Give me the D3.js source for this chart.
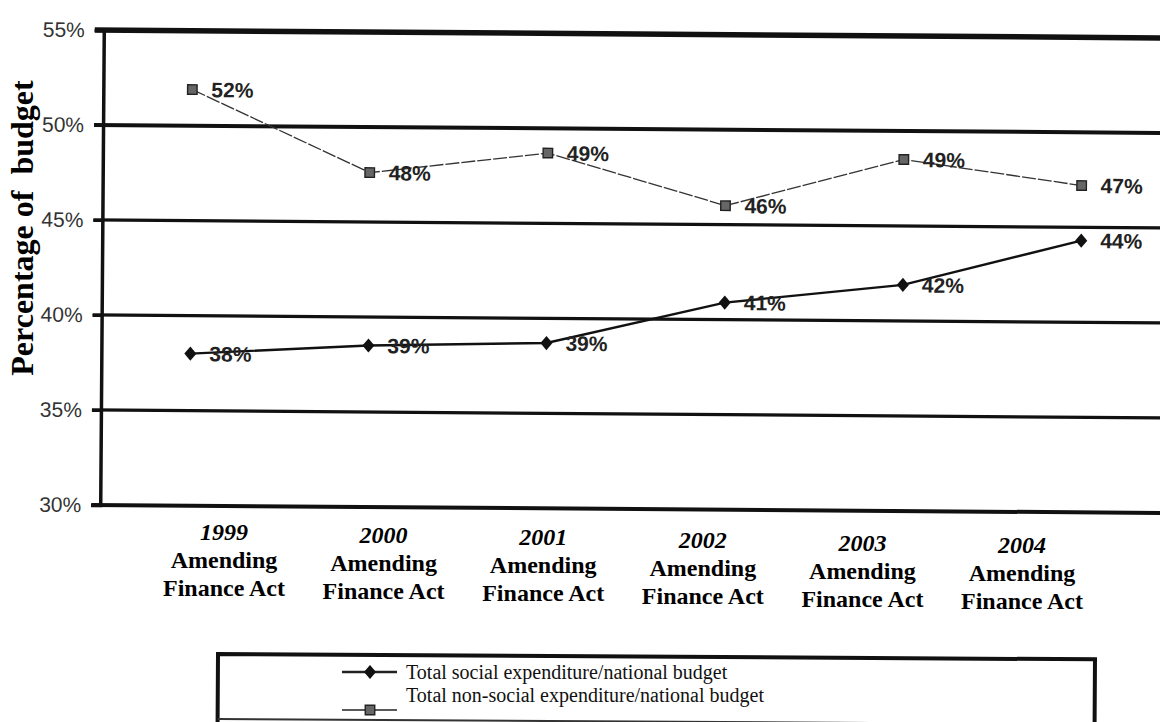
<!DOCTYPE html>
<html>
<head>
<meta charset="utf-8">
<script src="https://cdn.jsdelivr.net/npm/d3@7"></script>
<style>
  html, body { margin: 0; padding: 0; background: #fff; }
  svg { display: block; }
</style>
</head>
<body>
<svg id="chart" width="1160" height="722"></svg>
<script>
// ---------- data ----------
const years = ["1999", "2000", "2001", "2002", "2003", "2004"];
const categoryLine2 = "Amending";
const categoryLine3 = "Finance Act";
const socialValues = [38.0, 38.5, 38.7, 40.9, 41.9, 44.3];
const socialLabels = ["38%", "39%", "39%", "41%", "42%", "44%"];
const nonSocialValues = [51.9, 47.6, 48.7, 46.0, 48.5, 47.2];
const nonSocialLabels = ["52%", "48%", "49%", "46%", "49%", "47%"];
const yTicks = [30, 35, 40, 45, 50, 55];
const yTitle = "Percentage of  budget";
const legendNames = ["Total social expenditure/national budget", "Total non-social expenditure/national budget"];

// ---------- setup ----------
const svg = d3.select("#chart");
const axisX = 102;
const x = d3.scaleBand().domain(years).range([axisX, 1170]);
const y = d3.scaleLinear().domain([30, 55]).range([505, 30]);
const xLab = d3.scalePoint().domain(years).range([224, 1022]);
const cx = d => x(d) + x.bandwidth() / 2;

// scanned page is slightly rotated
const plot = svg.append("g").attr("transform", `rotate(0.43, ${axisX}, 268)`);

// gridlines
const gw = d => d === 55 ? 5.5 : (d === 50 || d === 30) ? 4 : 3.2;
plot.append("g").selectAll("line").data(yTicks).join("line")
  .attr("x1", axisX - 9).attr("x2", 1200)
  .attr("y1", d => y(d)).attr("y2", d => y(d))
  .attr("stroke", "#111").attr("stroke-width", gw);

// y axis with d3 axis
const yAxis = d3.axisLeft(y).tickValues(yTicks).tickFormat(d => d + "%").tickSize(9).tickPadding(10);
const ya = plot.append("g").attr("transform", `translate(${axisX},0)`).call(yAxis);
ya.select(".domain").attr("stroke", "#111").attr("stroke-width", 3.5);
ya.selectAll(".tick line").attr("stroke", "#111").attr("stroke-width", 3);
ya.selectAll(".tick text")
  .attr("font-family", "'Liberation Sans', Arial, sans-serif")
  .attr("font-size", 21).attr("fill", "#333");

// lines
const lineGen = d3.line().x((d, i) => cx(years[i])).y(d => y(d));
plot.append("path").datum(nonSocialValues)
  .attr("d", lineGen).attr("fill", "none")
  .attr("stroke", "#333").attr("stroke-width", 1.3).attr("stroke-dasharray", "14,2");
plot.append("path").datum(socialValues)
  .attr("d", lineGen).attr("fill", "none")
  .attr("stroke", "#111").attr("stroke-width", 2.4);

// custom diamond symbol
const diamond = {
  draw(ctx, size) {
    const h = Math.sqrt(size) * 0.6, w = h * 0.85;
    ctx.moveTo(0, -h); ctx.lineTo(w, 0); ctx.lineTo(0, h); ctx.lineTo(-w, 0); ctx.closePath();
  }
};
const diamondPath = d3.symbol().type(diamond).size(140);
const squarePath = d3.symbol().type(d3.symbolSquare).size(90);

// markers
plot.append("g").selectAll("path").data(nonSocialValues).join("path")
  .attr("d", squarePath)
  .attr("transform", (d, i) => `translate(${cx(years[i])},${y(d)})`)
  .attr("fill", "#666").attr("stroke", "#222").attr("stroke-width", 1.4);
plot.append("g").selectAll("path").data(socialValues).join("path")
  .attr("d", diamondPath)
  .attr("transform", (d, i) => `translate(${cx(years[i])},${y(d)})`)
  .attr("fill", "#111");

// value labels
const labelFont = "'Liberation Sans', Arial, sans-serif";
plot.append("g").selectAll("text").data(nonSocialValues).join("text")
  .attr("x", (d, i) => cx(years[i]) + 19).attr("y", d => y(d))
  .attr("dy", "0.36em")
  .attr("font-family", labelFont).attr("font-size", 21).attr("font-weight", "bold")
  .attr("fill", "#222")
  .text((d, i) => nonSocialLabels[i]);
plot.append("g").selectAll("text").data(socialValues).join("text")
  .attr("x", (d, i) => cx(years[i]) + 19).attr("y", d => y(d))
  .attr("dy", "0.36em")
  .attr("font-family", labelFont).attr("font-size", 21).attr("font-weight", "bold")
  .attr("fill", "#222")
  .text((d, i) => socialLabels[i]);

// category labels (overlaid, not rotated)
const serif = "'Liberation Serif', 'Times New Roman', serif";
const catG = svg.append("g");
years.forEach(yr => {
  const xc = xLab(yr);
  const base = 540 + (xc - 216) * 0.0165;
  const t = catG.append("text").attr("text-anchor", "middle")
    .attr("font-family", serif).attr("font-weight", "bold").attr("font-size", 24).attr("fill", "#000");
  t.append("tspan").attr("x", xc).attr("y", base).attr("font-style", "italic").text(yr);
  t.append("tspan").attr("x", xc).attr("y", base + 28).text(categoryLine2);
  t.append("tspan").attr("x", xc).attr("y", base + 56).text(categoryLine3);
});

// y-axis title
svg.append("text")
  .attr("transform", "translate(33,228) rotate(-90)")
  .attr("text-anchor", "middle")
  .attr("font-family", serif).attr("font-weight", "bold").attr("font-size", 32)
  .style("white-space", "pre")
  .text(yTitle);

// legend box
const lg = svg.append("g").attr("transform", "rotate(0.35, 218, 655)");
lg.append("path")
  .attr("d", "M218,722 L218,654 L1095,654 L1095,722")
  .attr("fill", "none").attr("stroke", "#111").attr("stroke-width", 4);
lg.append("line").attr("x1", 218).attr("x2", 1095).attr("y1", 719).attr("y2", 719)
  .attr("stroke", "#333").attr("stroke-width", 2);

const legRows = [
  { name: legendNames[0], sym: diamondPath, fill: "#111", stroke: "none", ly: 672, ty: 679, lw: 2.4 },
  { name: legendNames[1], sym: squarePath, fill: "#666", stroke: "#222", ly: 710, ty: 702, lw: 1.6 }
];
legRows.forEach(r => {
  svg.append("line").attr("x1", 342).attr("x2", 397).attr("y1", r.ly).attr("y2", r.ly)
    .attr("stroke", "#222").attr("stroke-width", r.lw);
  svg.append("path").attr("d", r.sym).attr("transform", `translate(370,${r.ly})`)
    .attr("fill", r.fill).attr("stroke", r.stroke).attr("stroke-width", 1.4);
  svg.append("text").attr("x", 406).attr("y", r.ty)
    .attr("font-family", serif).attr("font-size", 20).attr("fill", "#111")
    .text(r.name);
});
</script>
</body>
</html>
